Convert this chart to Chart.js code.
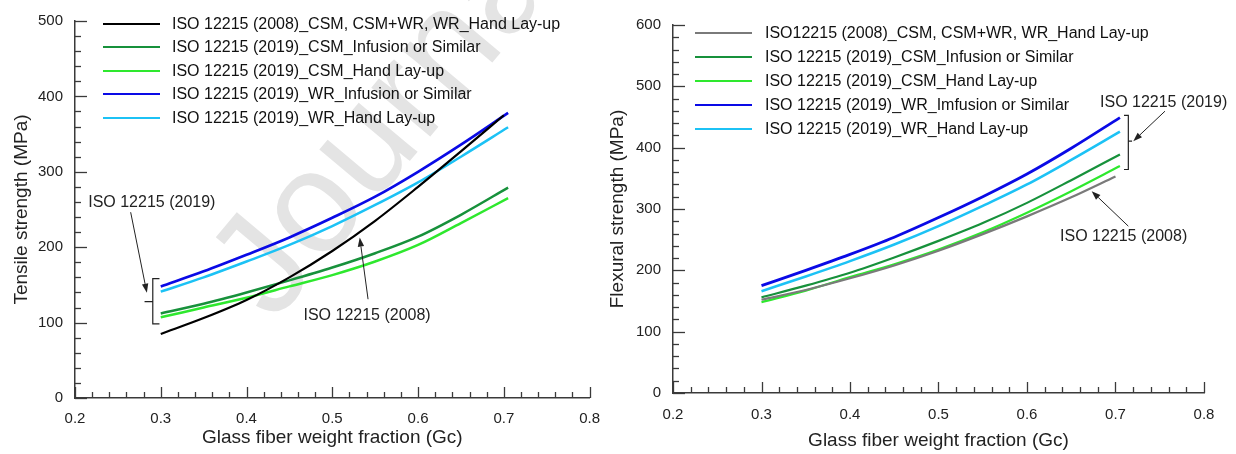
<!DOCTYPE html>
<html><head><meta charset="utf-8">
<script src="https://cdn.jsdelivr.net/npm/chart.js@4.4.1/dist/chart.umd.min.js"></script>
<style>
html,body{margin:0;padding:0;background:#fff;}
body{width:1236px;height:454px;position:relative;overflow:hidden;font-family:"Liberation Sans",Arial,sans-serif;}
canvas{position:absolute;top:0;}
#c1{left:0;width:612px;height:454px;}
#c2{left:600px;width:636px;height:454px;}
.wm{position:absolute;color:#e4e4e4;font-size:145px;line-height:1;transform-origin:0 0;white-space:nowrap;}
.lg{position:absolute;font-size:16px;color:#111;white-space:nowrap;line-height:16px;}
.sw{position:absolute;height:2px;}
</style></head><body>
<div class="wm" id="wm" style="left:180px;top:245px;transform:rotate(-50deg);">Journal</div>
<canvas id="c1" width="612" height="454"></canvas>
<canvas id="c2" width="636" height="454"></canvas>
<script>
// ---------- data ----------
const gc2008 = [0.30, 0.35, 0.40, 0.45, 0.50, 0.55, 0.60, 0.65, 0.70];
const gc2019 = [0.30, 0.35, 0.40, 0.45, 0.50, 0.55, 0.60, 0.65, 0.705];

const tensile2008      = [85, 106, 130, 160, 195, 235, 280, 327, 375];
const tensileCsmInf    = [112, 125, 140, 156, 173, 192, 214, 243, 279];
const tensileCsmHand   = [107, 120, 133, 148, 163, 181, 203, 232, 265];
const tensileWrInf     = [148, 168, 190, 213, 239, 267, 300, 336, 378];
const tensileWrHand    = [141, 160, 181, 203, 228, 256, 286, 320, 359];

const flex2008         = [152, 168, 187, 208, 232, 259, 288, 319, 353];
const flexCsmInf       = [156, 175, 196, 221, 248, 277, 310, 347, 389];
const flexCsmHand      = [148, 167, 189, 210, 234, 262, 294, 329, 370];
const flexWrInf        = [175, 200, 226, 254, 286, 320, 357, 399, 449];
const flexWrHand       = [166, 190, 215, 242, 272, 305, 340, 380, 426];

const leftLabels = [
  'ISO 12215 (2008)_CSM, CSM+WR, WR_Hand Lay-up',
  'ISO 12215 (2019)_CSM_Infusion or Similar',
  'ISO 12215 (2019)_CSM_Hand Lay-up',
  'ISO 12215 (2019)_WR_Infusion or Similar',
  'ISO 12215 (2019)_WR_Hand Lay-up'
];
const rightLabels = [
  'ISO12215 (2008)_CSM, CSM+WR, WR_Hand Lay-up',
  'ISO 12215 (2019)_CSM_Infusion or Similar',
  'ISO 12215 (2019)_CSM_Hand Lay-up',
  'ISO 12215 (2019)_WR_Imfusion or Similar',
  'ISO 12215 (2019)_WR_Hand Lay-up'
];
const xTicks = [0.2, 0.3, 0.4, 0.5, 0.6, 0.7, 0.8];
const leftYTicks = [0, 100, 200, 300, 400, 500];
const rightYTicks = [0, 100, 200, 300, 400, 500, 600];

// ---------- styles ----------
const FONT = '"Liberation Sans", Arial, sans-serif';
const leftColors  = ['#000000', '#17913b', '#2ee82e', '#0a0ae6', '#1cc2f5'];
const rightColors = ['#7a7a7a', '#17913b', '#2ee82e', '#0a0ae6', '#1cc2f5'];
const leftWidths  = [2.2, 2.5, 2.5, 2.7, 2.5];
const rightWidths = [2.2, 2.2, 2.2, 2.8, 2.6];

function pts(xs, ys){ return xs.map((x, i) => ({x: x, y: ys[i]})); }

// annotations in data coordinates
const leftNotes = {
  texts: [
    {t: 'ISO 12215 (2019)', x: 0.2154, y: 259.5},
    {t: 'ISO 12215 (2008)', x: 0.4664, y: 109.2}
  ],
  arrows: [
    {from: [0.2649, 246.4], to: [0.2838, 139.6]},
    {from: [0.5417, 131.0], to: [0.5320, 212.8]}
  ],
  brace: {x: 0.2907, xEnd: 0.2985, xMid: 0.2811, top: 158.4, mid: 127.8, bottom: 98.3}
};
const rightNotes = {
  texts: [
    {t: 'ISO 12215 (2019)', x: 0.6825, y: 474},
    {t: 'ISO 12215 (2008)', x: 0.6373, y: 255.7}
  ],
  arrows: [
    {from: [0.7559, 459.5], to: [0.7201, 410.6]},
    {from: [0.7145, 272.0], to: [0.6731, 329.0]}
  ],
  brace: {x: 0.7145, xEnd: 0.7096, xMid: 0.7187, top: 452.5, mid: 410.6, bottom: 364.4}
};

function inwardTicks(yMax){
  return {
    id: 'inwardTicks',
    afterDraw(chart){
      const ctx = chart.ctx, xs = chart.scales.x, ys = chart.scales.y, ca = chart.chartArea;
      ctx.save();
      ctx.strokeStyle = '#3a3a3a';
      ctx.lineWidth = 1.3;
      for (let i = 0; i <= 30; i++) {
        const v = 0.2 + i * 0.02;
        const px = Math.round(xs.getPixelForValue(v)) + 0.5;
        const len = (i % 5 === 0) ? 11 : 6;
        ctx.beginPath(); ctx.moveTo(px, ca.bottom); ctx.lineTo(px, ca.bottom - len); ctx.stroke();
      }
      for (let v = 0; v <= yMax; v += 20) {
        const py = Math.round(ys.getPixelForValue(v)) + 0.5;
        const len = (v % 100 === 0) ? 12 : 6;
        ctx.beginPath(); ctx.moveTo(ca.left, py); ctx.lineTo(ca.left + len, py); ctx.stroke();
      }
      ctx.restore();
    }
  };
}

function notesPlugin(notes){
  return {
    id: 'notes',
    afterDatasetsDraw(chart){
      const ctx = chart.ctx, xs = chart.scales.x, ys = chart.scales.y;
      const X = v => xs.getPixelForValue(v), Y = v => ys.getPixelForValue(v);
      ctx.save();
      ctx.fillStyle = '#222';
      ctx.font = '16px ' + FONT;
      ctx.textAlign = 'left';
      ctx.textBaseline = 'middle';
      notes.texts.forEach(n => ctx.fillText(n.t, X(n.x), Y(n.y)));
      ctx.strokeStyle = '#222';
      ctx.lineWidth = 1;
      notes.arrows.forEach(a => {
        const x1 = X(a.from[0]), y1 = Y(a.from[1]), x2 = X(a.to[0]), y2 = Y(a.to[1]);
        const ang = Math.atan2(y2 - y1, x2 - x1);
        const hl = 9, hw = 3.2;
        const bx = x2 - hl * Math.cos(ang), by = y2 - hl * Math.sin(ang);
        ctx.beginPath(); ctx.moveTo(x1, y1); ctx.lineTo(bx, by); ctx.stroke();
        ctx.beginPath();
        ctx.moveTo(x2, y2);
        ctx.lineTo(bx + hw * Math.sin(ang), by - hw * Math.cos(ang));
        ctx.lineTo(bx - hw * Math.sin(ang), by + hw * Math.cos(ang));
        ctx.closePath(); ctx.fill();
      });
      const b = notes.brace;
      ctx.lineWidth = 1.2;
      ctx.beginPath();
      ctx.moveTo(X(b.xEnd), Y(b.top));
      ctx.lineTo(X(b.x), Y(b.top));
      ctx.lineTo(X(b.x), Y(b.bottom));
      ctx.lineTo(X(b.xEnd), Y(b.bottom));
      ctx.moveTo(X(b.x), Y(b.mid));
      ctx.lineTo(X(b.xMid), Y(b.mid));
      ctx.stroke();
      ctx.restore();
    }
  };
}

function makeChart(id, series, labels, colors, widths, yMax, yTickVals, yTitle, dims, notes){
  const datasets = series.map((s, i) => ({
    label: labels[i],
    data: pts(i === 0 ? gc2008 : gc2019, s),
    borderColor: colors[i],
    backgroundColor: colors[i],
    borderWidth: widths[i],
    pointRadius: 0,
    fill: false,
    tension: 0.4,
    cubicInterpolationMode: 'monotone'
  }));
  return new Chart(document.getElementById(id), {
    type: 'line',
    data: {datasets: datasets},
    options: {
      responsive: false,
      animation: false,
      devicePixelRatio: 1,
      layout: {padding: {top: dims.top, right: dims.right, bottom: 0, left: 0}},
      plugins: {legend: {display: false}, tooltip: {enabled: false}},
      scales: {
        x: {
          type: 'linear', min: 0.2, max: 0.8,
          afterBuildTicks: s => { s.ticks = xTicks.map(v => ({value: v})); },
          ticks: {callback: v => Number(v).toFixed(1), padding: dims.xPad, font: {size: 15, family: FONT}, color: '#222', maxRotation: 0},
          grid: {display: false, drawTicks: false},
          border: {display: true, color: '#3a3a3a', width: 1.5},
          title: {display: true, text: 'Glass fiber weight fraction (Gc)', font: {size: 19, family: FONT}, color: '#222', padding: {top: 0, bottom: dims.xTitlePad}},
          afterFit: s => { s.height = dims.xH; }
        },
        y: {
          type: 'linear', min: 0, max: yMax,
          afterBuildTicks: s => { s.ticks = yTickVals.map(v => ({value: v})); },
          ticks: {padding: 12, font: {size: 15, family: FONT}, color: '#222'},
          grid: {display: false, drawTicks: false},
          border: {display: true, color: '#3a3a3a', width: 1.5},
          title: {display: true, text: yTitle, font: {size: 19, family: FONT}, color: '#222', padding: {top: dims.yTitlePad, bottom: 0}},
          afterFit: s => { s.width = dims.yW; }
        }
      }
    },
    plugins: [inwardTicks(yMax), notesPlugin(notes)]
  });
}

makeChart('c1',
  [tensile2008, tensileCsmInf, tensileCsmHand, tensileWrInf, tensileWrHand],
  leftLabels, leftColors, leftWidths, 500, leftYTicks, 'Tensile strength (MPa)',
  {top: 16, right: 19, xH: 56, yW: 75, xPad: 12, xTitlePad: 4.6, yTitlePad: 10.6}, leftNotes);

makeChart('c2',
  [flex2008, flexCsmInf, flexCsmHand, flexWrInf, flexWrHand],
  rightLabels, rightColors, rightWidths, 600, rightYTicks, 'Flexural strength (MPa)',
  {top: 25, right: 32, xH: 61, yW: 73, xPad: 13, xTitlePad: 2, yTitlePad: 6.6}, rightNotes);

// ---------- HTML legends ----------
function legend(labels, colors, lineX, lineW, textX, rowYs){
  labels.forEach((t, i) => {
    const sw = document.createElement('div');
    sw.className = 'sw';
    sw.style.left = lineX + 'px';
    sw.style.width = lineW + 'px';
    sw.style.top = (rowYs[i] - 1) + 'px';
    sw.style.background = colors[i];
    document.body.appendChild(sw);
    const d = document.createElement('div');
    d.className = 'lg';
    d.style.left = textX + 'px';
    d.style.top = (rowYs[i] - 8) + 'px';
    d.textContent = t;
    document.body.appendChild(d);
  });
}
legend(leftLabels, leftColors, 103, 57, 172, [24, 47.3, 70.7, 94.3, 117.7]);
legend(rightLabels, rightColors, 695, 57, 765, [33.3, 56.7, 80.7, 105, 129.3]);
</script></body></html>
